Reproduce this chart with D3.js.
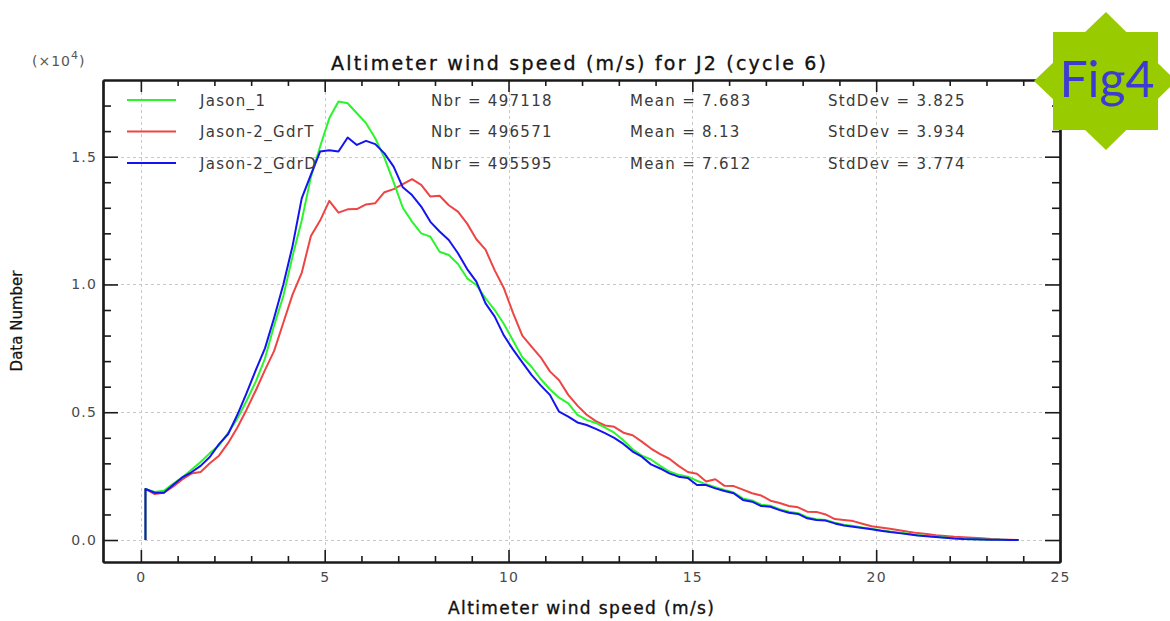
<!DOCTYPE html>
<html>
<head>
<meta charset="utf-8">
<script src="https://cdn.jsdelivr.net/npm/d3@7"></script>
<style>
body { margin: 0; background: #fff; }
svg { display: block; font-family: "DejaVu Sans", sans-serif; }
</style>
</head>
<body>
<div id="app"></div>
<script>
// bin centres of the wind speed histogram (m/s); first bin repeated for the drop to zero
const speeds = [0.125, 0.125, 0.375, 0.625, 0.875, 1.125, 1.375, 1.625, 1.875, 2.125, 2.375, 2.625, 2.875,
    3.125, 3.375, 3.625, 3.875, 4.125, 4.375, 4.625, 4.875, 5.125, 5.375, 5.625, 5.875, 6.125, 6.375, 6.625, 6.875,
    7.125, 7.375, 7.625, 7.875, 8.125, 8.375, 8.625, 8.875, 9.125, 9.375, 9.625, 9.875, 10.125, 10.375, 10.625, 10.875,
    11.125, 11.375, 11.625, 11.875, 12.125, 12.375, 12.625, 12.875, 13.125, 13.375, 13.625, 13.875, 14.125, 14.375,
    14.625, 14.875, 15.125, 15.375, 15.625, 15.875, 16.125, 16.375, 16.625, 16.875, 17.125, 17.375, 17.625, 17.875,
    18.125, 18.375, 18.625, 18.875, 19.125, 19.375, 19.625, 19.875, 20.125, 20.375, 20.625, 20.875, 21.125, 21.375,
    21.625, 21.875, 22.125, 22.375, 22.625, 22.875, 23.125, 23.375, 23.625, 23.875];

const jason1 = [0, 2000, 1880, 1930, 2200, 2450, 2750, 3050, 3400, 3700, 4200, 4750, 5450, 6200, 7100, 8400, 9550,
    11100, 12500, 14200, 15400, 16500, 17160, 17090, 16700, 16310, 15720, 14950, 14000, 13000, 12460, 12000, 11870,
    11280, 11150, 10800, 10240, 9980, 9460, 9000, 8450, 7800, 7150, 6780, 6300, 5900, 5570, 5350, 4900, 4700, 4580,
    4400, 4200, 3900, 3550, 3300, 3150, 2900, 2680, 2550, 2480, 2320, 2180, 2070, 1960, 1860, 1630, 1550, 1380, 1340,
    1210, 1110, 1050, 890, 810, 780, 680, 600, 550, 490, 440, 380, 330, 290, 250, 200, 160, 130, 100, 70, 50, 30, 20,
    10, 10, 5, 2];

const gdrT = [0, 2000, 1800, 1850, 2090, 2370, 2600, 2660, 3000, 3300, 3800, 4400, 5100, 5850, 6650, 7400, 8500,
    9600, 10450, 11900, 12500, 13270, 12810, 12940, 12950, 13130, 13180, 13610, 13730, 13930, 14120, 13900, 13440,
    13470, 13100, 12850, 12380, 11770, 11360, 10550, 9850, 8880, 8000, 7570, 7150, 6600, 6250, 5680, 5260, 4900, 4650,
    4480, 4430, 4200, 4100, 3850, 3580, 3360, 3180, 2900, 2660, 2590, 2290, 2380, 2120, 2110, 1970, 1830, 1740, 1540,
    1450, 1330, 1280, 1110, 1100, 1000, 820, 780, 740, 640, 540, 490, 440, 380, 320, 270, 240, 190, 160, 130, 110, 90,
    70, 40, 20, 10, 3];

const gdrD = [0, 2000, 1850, 1850, 2150, 2450, 2650, 2900, 3250, 3750, 4150, 4900, 5750, 6650, 7500, 8700, 10000,
    11500, 13370, 14300, 15200, 15250, 15200, 15750, 15460, 15620, 15490, 15130, 14610, 13800, 13500, 13050, 12450,
    12070, 11740, 11220, 10600, 10110, 9260, 8740, 8000, 7450, 6950, 6460, 6050, 5680, 5020, 4830, 4600, 4500, 4350,
    4180, 4000, 3760, 3460, 3260, 2960, 2800, 2610, 2480, 2430, 2150, 2150, 2020, 1920, 1830, 1570, 1500, 1330, 1300,
    1170, 1070, 1020, 850, 780, 760, 650, 570, 520, 470, 420, 360, 310, 270, 230, 180, 150, 120, 90, 60, 40, 30, 20,
    10, 10, 5, 2];

const seriesNames = ["Jason_1", "Jason-2_GdrT", "Jason-2_GdrD"];
const seriesColors = ["#2af52a", "#ee4444", "#1414f0"];
const nbrValues = ["497118", "496571", "495595"];
const meanValues = ["7.683", "8.13", "7.612"];
const stdValues = ["3.825", "3.934", "3.774"];

const xMajor = [0, 5, 10, 15, 20, 25];
const xMinor = [1, 2, 3, 4, 6, 7, 8, 9, 11, 12, 13, 14, 16, 17, 18, 19, 21, 22, 23, 24];
const yMajor = [0, 5000, 10000, 15000];
const yMinor = [1000, 2000, 3000, 4000, 6000, 7000, 8000, 9000, 11000, 12000, 13000, 14000, 16000, 17000];

const W = 1170, H = 621;
const plot = { left: 103, right: 1060, top: 80, bottom: 562 };

const svg = d3.select("#app").append("svg")
    .attr("width", W)
    .attr("height", H);

const x = d3.scaleLinear().domain([-1.03, 25]).range([plot.left, plot.right]);
const y = d3.scaleLinear().domain([-860, 18000]).range([plot.bottom, plot.top]);

// grid
const grid = svg.append("g").attr("stroke", "#c8c8c8").attr("stroke-dasharray", "3,3").attr("stroke-width", 1);
grid.selectAll("line.v")
    .data(xMajor.filter(d => d < 25))
    .join("line")
        .attr("x1", d => Math.round(x(d)) + 0.5).attr("x2", d => Math.round(x(d)) + 0.5)
        .attr("y1", plot.top).attr("y2", plot.bottom);
grid.selectAll("line.h")
    .data(yMajor)
    .join("line")
        .attr("y1", d => Math.round(y(d)) + 0.5).attr("y2", d => Math.round(y(d)) + 0.5)
        .attr("x1", plot.left).attr("x2", plot.right);

// curves
const series = [
    { name: "GdrT", values: gdrT, color: seriesColors[1] },
    { name: "Jason_1", values: jason1, color: seriesColors[0] },
    { name: "GdrD", values: gdrD, color: seriesColors[2] }
];
const line = d3.line()
    .x((d, i) => x(speeds[i]))
    .y(d => y(d));

svg.append("g").selectAll("path")
    .data(series)
    .join("path")
        .attr("d", s => line(s.values))
        .attr("fill", "none")
        .attr("stroke", s => s.color)
        .attr("stroke-width", 2)
        .attr("stroke-linejoin", "round");

// frame axes
function styleAxis(g) {
    g.select(".domain").attr("stroke", "#1a1a1a").attr("stroke-width", 2.2);
    g.selectAll(".tick line").attr("stroke", "#1a1a1a").attr("stroke-width", 1.6);
    g.selectAll(".tick text")
        .attr("fill", "#4a4a4a")
        .attr("font-family", "DejaVu Sans, sans-serif")
        .attr("font-size", 14)
        .attr("letter-spacing", 1.2);
}

const fmtY = d => d3.format(".1f")(d / 1e4);

svg.append("g")
    .attr("transform", `translate(0,${plot.bottom})`)
    .call(d3.axisBottom(x).tickValues(xMinor).tickSize(-6).tickSizeOuter(0).tickFormat(""))
    .call(styleAxis);
svg.append("g")
    .attr("transform", `translate(0,${plot.bottom})`)
    .call(d3.axisBottom(x).tickValues(xMajor).tickSize(-12).tickSizeOuter(0).tickPadding(10))
    .call(styleAxis);

svg.append("g")
    .attr("transform", `translate(0,${plot.top})`)
    .call(d3.axisTop(x).tickValues(xMinor).tickSize(-6).tickSizeOuter(0).tickFormat(""))
    .call(styleAxis);
svg.append("g")
    .attr("transform", `translate(0,${plot.top})`)
    .call(d3.axisTop(x).tickValues(xMajor).tickSize(-12).tickSizeOuter(0).tickFormat(""))
    .call(styleAxis);

svg.append("g")
    .attr("transform", `translate(${plot.left},0)`)
    .call(d3.axisLeft(y).tickValues(yMinor).tickSize(-8).tickSizeOuter(0).tickFormat(""))
    .call(styleAxis);
svg.append("g")
    .attr("transform", `translate(${plot.left},0)`)
    .call(d3.axisLeft(y).tickValues(yMajor).tickSize(-15).tickSizeOuter(0).tickPadding(6).tickFormat(fmtY))
    .call(styleAxis);

svg.append("g")
    .attr("transform", `translate(${plot.right},0)`)
    .call(d3.axisRight(y).tickValues(yMinor).tickSize(-8).tickSizeOuter(0).tickFormat(""))
    .call(styleAxis);
svg.append("g")
    .attr("transform", `translate(${plot.right},0)`)
    .call(d3.axisRight(y).tickValues(yMajor).tickSize(-15).tickSizeOuter(0).tickFormat(""))
    .call(styleAxis);

// exponent marker
const expo = svg.append("text")
    .attr("x", 32).attr("y", 66)
    .attr("fill", "#555")
    .attr("font-size", 14)
    .attr("letter-spacing", 1);
expo.append("tspan").text("(\u00d710");
expo.append("tspan").attr("dy", -7).attr("font-size", 11).text("4");
expo.append("tspan").attr("dy", 7).text(")");

// titles
svg.append("text")
    .attr("x", 331).attr("y", 70)
    .attr("font-size", 19)
    .attr("fill", "#111")
    .attr("stroke", "#111")
    .attr("stroke-width", 0.35)
    .attr("textLength", 495)
    .attr("lengthAdjust", "spacing")
    .text("Altimeter wind speed (m/s) for J2 (cycle 6)");

svg.append("text")
    .attr("x", 448).attr("y", 614)
    .attr("font-size", 17)
    .attr("fill", "#111")
    .attr("stroke", "#111")
    .attr("stroke-width", 0.35)
    .attr("textLength", 266)
    .attr("lengthAdjust", "spacing")
    .text("Altimeter wind speed (m/s)");

svg.append("text")
    .attr("transform", "translate(22,321) rotate(-90)")
    .attr("text-anchor", "middle")
    .attr("font-size", 15)
    .attr("fill", "#111")
    .attr("stroke", "#111")
    .attr("stroke-width", 0.25)
    .text("Data Number");

// legend
const legendY = [100, 131.5, 163];
const legend = svg.append("g").selectAll("g")
    .data(seriesNames)
    .join("g")
        .attr("transform", (d, i) => `translate(0,${legendY[i]})`);
legend.append("line")
    .attr("x1", 127).attr("x2", 176)
    .attr("stroke", (d, i) => seriesColors[i])
    .attr("stroke-width", 2);
const legendText = (xPos, fn) => legend.append("text")
    .attr("x", xPos).attr("y", 5.5)
    .attr("font-size", 15)
    .attr("letter-spacing", 1.3)
    .attr("fill", "#3a3a3a")
    .text(fn);
legendText(200, d => d);
legendText(431, (d, i) => "Nbr = " + nbrValues[i]);
legendText(630, (d, i) => "Mean = " + meanValues[i]);
legendText(828, (d, i) => "StdDev = " + stdValues[i]);

// Fig4 badge
const badge = svg.append("g");
badge.append("rect")
    .attr("x", 1053).attr("y", 32).attr("width", 105).attr("height", 98)
    .attr("fill", "#99cc00");
badge.append("polygon")
    .attr("points", "1106,12 1176,81 1106,150 1034,81")
    .attr("fill", "#99cc00");
badge.append("text")
    .attr("x", 1107).attr("y", 97)
    .attr("text-anchor", "middle")
    .attr("font-family", "Lato, sans-serif")
    .attr("font-size", 50)
    .attr("fill", "#3c3cd2")
    .text("Fig4");
</script>
</body>
</html>
